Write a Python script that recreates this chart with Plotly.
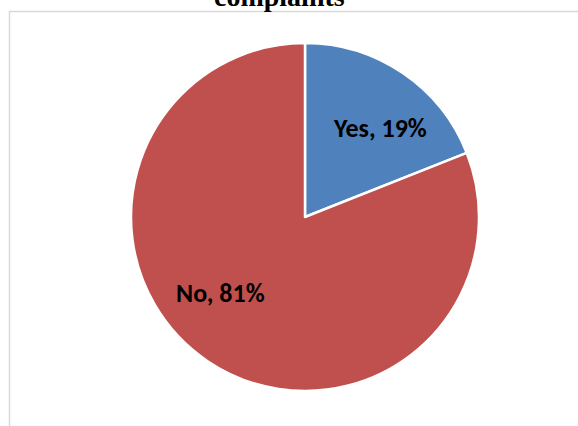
import plotly.graph_objects as go

# Survey answers and their shares (%)
labels = ["Yes", "No"]
shares = [19, 81]
colors = ["#4F81BD", "#C0504D"]
title_text = "complaints"

W, H = 578, 426

# label anchor points (paper fractions) for each slice
label_pos = [(380 / W, 1 - 128 / H), (220 / W, 1 - 293 / H)]

fig = go.Figure(
    go.Pie(
        labels=labels,
        values=shares,
        sort=False,
        direction="clockwise",
        rotation=0,
        marker=dict(colors=colors, line=dict(color="white", width=2.5)),
        textinfo="none",
        hoverinfo="label+percent",
        domain=dict(x=[131 / W, 479 / W], y=[35 / H, 383 / H]),
        showlegend=False,
    )
)

for lab, val, (px, py) in zip(labels, shares, label_pos):
    fig.add_annotation(
        x=px, y=py, xref="paper", yref="paper",
        xanchor="center", yanchor="middle",
        text=f"<b>{lab}, {val}%</b>",
        showarrow=False,
        font=dict(family="Carlito, Liberation Sans, Arial", size=26, color="black"),
    )

# chart area frame (extends past the visible edges)
fig.add_shape(
    type="rect", xref="paper", yref="paper",
    x0=9.5 / W, x1=1.05, y0=-0.05, y1=1 - 11.5 / H,
    line=dict(color="#D9D9D9", width=1.5), fillcolor="rgba(0,0,0,0)",
    layer="below",
)

# heading (upper lines fall outside the page)
fig.add_annotation(
    x=279 / W, y=1 - 7 / H, xref="paper", yref="paper",
    xanchor="center", yanchor="bottom", yshift=-7,
    text=f"<b>{title_text}</b>", showarrow=False,
    font=dict(family="Liberation Serif, Times New Roman, serif", size=28, color="black"),
)

fig.update_layout(
    width=W, height=H,
    margin=dict(l=0, r=0, t=0, b=0),
    paper_bgcolor="white",
    plot_bgcolor="white",
)

fig.write_html("out.html")
